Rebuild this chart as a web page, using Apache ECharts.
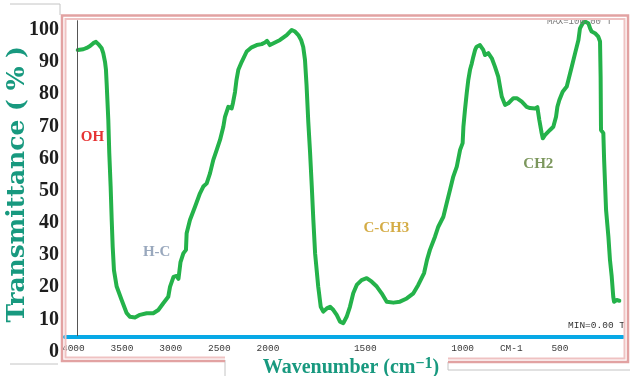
<!DOCTYPE html>
<html>
<head>
<meta charset="utf-8">
<script src="https://cdn.jsdelivr.net/npm/echarts@6/dist/echarts.min.js"></script>
<style>html,body{margin:0;padding:0;background:#fff}#chart{width:630px;height:376px}</style>
</head>
<body>
<div id="chart"></div>
<script>
// ---- Data (wavenumber in cm-1, transmittance in %) ----
const wavenumbers = [3955,3898,3863,3829,3795,3768,3744,3709,3693,3675,3665,3658,3641,3631,3617,3606,3596,3583,3555,3504,
  3452,3418,3367,3316,3247,3179,3127,3076,3025,3007,2971,2940,2920,2899,2870,2843,2836,2802,2750,2699,
  2665,2630,2596,2562,2527,2493,2459,2442,2408,2373,2360,2339,2324,2305,2270,2219,2168,2116,2065,2031,
  2010,1990,1964,1938,1904,1878,1861,1844,1830,1819,1810,1802,1793,1784,1775,1767,1758,1742,1729,1716,
  1698,1681,1664,1647,1630,1613,1596,1579,1562,1544,1519,1493,1467,1441,1416,1390,1356,1322,1287,1253,
  1228,1198,1183,1168,1142,1125,1099,1082,1065,1048,1030,1013,1000,996,988,979,971,962,953,945,
  936,928,911,894,885,868,850,834,817,808,799,782,765,739,722,696,671,654,628,616,
  606,594,588,577,551,534,520,513,503,486,465,452,439,422,405,397,383,371,354,345,
  337,320,303,294,291,289,277,273,263,251,243,234,226,222,208,195];
const transmittance = [93.8,94.0,94.4,95.0,95.9,96.3,95.6,94.3,92.8,90.1,87.6,83.4,72.0,61.7,51.3,40.9,32.6,25.3,20.2,16.0,
  11.9,10.8,10.6,11.4,11.9,11.9,12.9,15.0,17.0,20.1,23.2,23.5,22.6,27.8,30.5,31.6,36.8,40.9,45.0,49.2,
  51.3,52.3,55.4,59.6,62.7,65.8,69.9,73.0,76.1,75.6,77.3,80.7,84.4,87.6,90.1,93.3,94.6,95.3,95.6,96.1,
  96.6,95.3,96.1,96.9,98.4,100.0,99.5,98.4,96.9,94.7,90.7,82.9,71.4,62.1,51.3,40.9,30.5,20.2,13.9,12.4,
  13.4,13.9,12.9,11.4,9.3,8.8,10.8,13.9,18.1,20.7,22.2,22.8,21.7,20.2,18.1,15.5,15.2,15.5,16.5,18.1,
  20.7,24.4,28.5,31.6,35.7,38.8,41.9,46.1,50.2,54.4,57.5,62.7,64.8,69.9,75.1,80.3,84.4,87.6,89.6,91.7,
  93.8,94.8,95.3,93.8,92.2,92.8,91.2,88.6,85.5,82.4,79.3,76.7,77.2,78.8,78.8,77.7,76.1,75.7,75.6,76.0,
  72.0,67.9,66.3,67.3,68.9,69.9,73.0,76.1,78.2,80.8,82.4,85.5,88.6,92.8,96.9,100.5,102.1,102.6,102.1,100.5,
  99.5,99.0,97.9,96.4,85.5,68.9,67.9,59.6,44.0,35.7,28.5,23.3,17.0,15.5,16.0,15.8];

const xTickWavenumbers = [4000, 3500, 3000, 2500, 2000, 1500, 1000, 750, 500];
const xUnitTick = 750;           // position of the "CM-1" unit marker
const yTicks = [0,10,20,30,40,50,60,70,80,90,100];
const annotations = [
  {name: 'OH',    wn: 3804, t: 66.8, color: '#e00000'},
  {name: 'H-C',   wn: 3144, t: 30.8, color: '#8092ad'},
  {name: 'C-CH3', wn: 1392, t: 38.4, color: '#c99718'},
  {name: 'CH2',   wn: 611,  t: 58.3, color: '#5b7d35'}
];
const xRangeWN = [176, 4086];
const yRange = [0, 104];

// IR chart scale: region above 2000 cm-1 is compressed by a factor of 2
function warp(w){ return w > 2000 ? 2000 + (w - 2000) / 2 : w; }
function unwarp(u){ return u > 2000 ? 2000 + (u - 2000) * 2 : u; }

const seriesData = wavenumbers.map((w, i) => [warp(w), transmittance[i]]);

const chart = echarts.init(document.getElementById('chart'), null, {renderer: 'canvas'});
const teal = '#18997f';
const pinkOuter = '#e2a2a2', pinkInner = '#efc2c2', gray = '#c4c4c4';

chart.setOption({
  backgroundColor: '#ffffff',
  animation: false,
  grid: {left: 65, right: 7, top: 17.1, bottom: 24.5, containLabel: false, outerBoundsMode: 'none'},
  xAxis: {
    type: 'value', inverse: true,
    min: warp(xRangeWN[0]), max: warp(xRangeWN[1]),
    offset: -15,
    axisLine: {show: true, lineStyle: {color: '#08a9e6', width: 4}},
    axisTick: {show: false},
    splitLine: {show: false},
    axisLabel: {
      customValues: xTickWavenumbers.map(warp),
      margin: 7,
      fontFamily: 'Liberation Mono', fontSize: 9.5, color: '#3a3a3a',
      formatter: v => Math.abs(v - warp(xUnitTick)) < 1 ? 'CM-1' : String(Math.round(unwarp(v)))
    },
    name: '{t|Wavenumber (cm}{s|−1}{t|)}',
    nameLocation: 'middle', nameGap: 19, nameMoveOverlap: false,
    nameTextStyle: {
      padding: [0, 0, 0, 14],
      rich: {
        t: {fontFamily: 'Liberation Serif', fontWeight: 'bold', fontSize: 20, color: teal},
        s: {fontFamily: 'Liberation Serif', fontWeight: 'bold', fontSize: 16, color: teal, verticalAlign: 'top', padding: [0, 0, 8, 0]}
      }
    }
  },
  yAxis: {
    type: 'value', min: yRange[0], max: yRange[1],
    axisLine: {show: false}, axisTick: {show: false}, splitLine: {show: false},
    axisLabel: {
      customValues: yTicks, margin: 6,
      fontFamily: 'Liberation Serif', fontWeight: 'bold', fontSize: 20, color: '#1e1e1e'
    },
    name: 'Transmittance ( % )',
    nameLocation: 'middle', nameGap: 35, nameMoveOverlap: false,
    nameTextStyle: {fontFamily: 'DejaVu Serif', fontWeight: 'bold', fontSize: 25, color: teal}
  },
  series: [
    {
      type: 'line', data: seriesData, symbol: 'none', smooth: false, z: 3,
      lineStyle: {color: '#24b24a', width: 4, cap: 'round', join: 'round'},
      markLine: {
        silent: true, symbol: 'none', label: {show: false},
        lineStyle: {color: '#555555', width: 1, type: 'solid'},
        data: [[{coord: [warp(wavenumbers[0]), 4.8]}, {coord: [warp(wavenumbers[0]), 103]}]]
      }
    },
    {
      type: 'scatter', symbolSize: 0, z: 4,
      data: annotations.map(a => ({name: a.name, value: [warp(a.wn), a.t],
        label: {color: a.color}})),
      label: {show: true, position: 'inside', formatter: p => p.name,
        fontFamily: 'Liberation Serif', fontWeight: 'bold', fontSize: 15}
    }
  ],
  graphic: [
    {type: 'text', z: 50, left: 568, top: 320,
      style: {text: 'MIN=0.00 T', font: '9.5px "Liberation Mono"', fill: '#333'}},
    {type: 'text', z: 50, left: 547, top: 17,
      style: {text: 'MAX=100.00 T', font: '9px "Liberation Mono"', fill: '#777'}},
    // page frame
    {type: 'polyline', z: 100, shape: {points: [[225,361],[62,361],[62,15.5],[628,15.5],[628,362],[448,362]]},
      style: {stroke: pinkOuter, lineWidth: 2.5, fill: null}},
    {type: 'polyline', z: 100, shape: {points: [[225,357.5],[65.5,357.5],[65.5,19],[624.5,19],[624.5,358.5],[448,358.5]]},
      style: {stroke: pinkInner, lineWidth: 2, fill: null}},
    {type: 'polyline', z: 90, shape: {points: [[10,4],[60,4],[60,15]]}, style: {stroke: gray, lineWidth: 1, fill: null}},
    {type: 'polyline', z: 90, shape: {points: [[10,364],[58,364]]}, style: {stroke: gray, lineWidth: 1, fill: null}},
    {type: 'polyline', z: 90, shape: {points: [[225,360],[225,376]]}, style: {stroke: gray, lineWidth: 1, fill: null}},
    {type: 'polyline', z: 90, shape: {points: [[448,362],[448,370],[630,370]]}, style: {stroke: gray, lineWidth: 1, fill: null}}
  ]
});
</script>
</body>
</html>
